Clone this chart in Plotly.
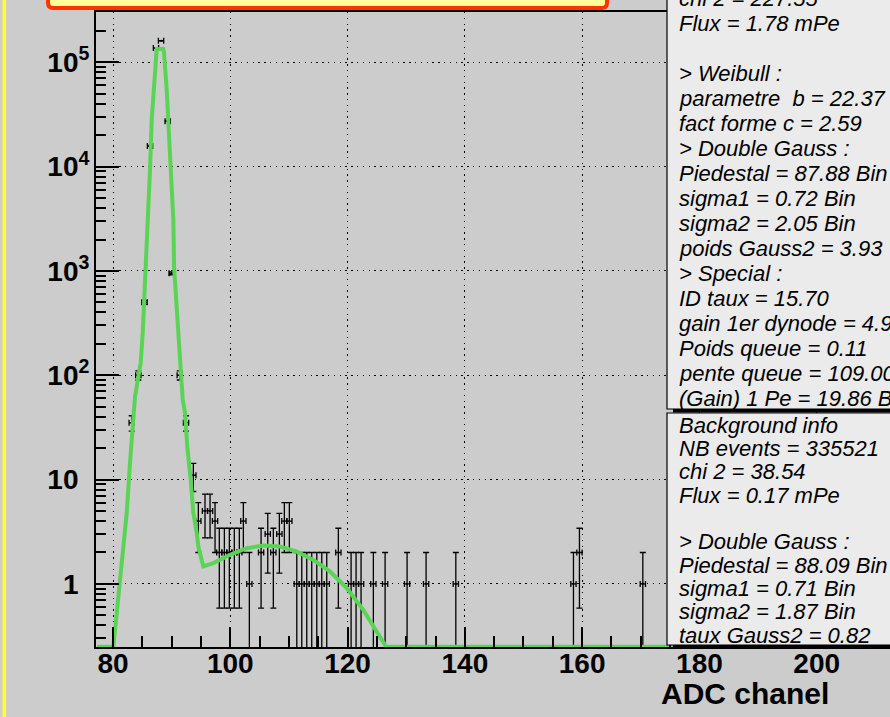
import numpy as np
import plotly.graph_objects as go

# ADC spectrum (bin centre, entries)
adc = [83.19, 84.32, 85.37, 86.31, 87.33, 88.19, 89.33, 90.01, 91.38, 92.45,
       93.70, 94.55, 95.69, 96.55, 97.40, 98.13, 98.99, 99.84, 100.69, 101.54,
       102.23, 103.25, 105.25, 106.39, 107.34, 108.37, 109.22, 110.07,
       111.34, 112.19, 113.04, 113.89, 114.75, 115.60, 116.45, 118.43,
       120.60, 121.45, 122.30, 124.40, 126.40, 130.15, 133.39, 138.46,
       158.52, 159.54, 170.35]
counts = [35, 100, 500, 15800, 137000, 161000, 27200, 950, 100, 35,
          11, 4, 5, 5, 4, 2, 2, 2, 2, 2,
          4, 1, 2, 3, 2, 3, 4, 4,
          1, 1, 1, 1, 1, 1, 1, 2,
          1, 1, 1, 1, 1, 1, 1, 1,
          1, 2, 1]

# fitted function (green)
fit_x = [77.27, 80.05, 80.63, 81.19, 81.76, 82.34, 82.90, 83.46, 83.75, 84.04,
         84.72, 85.07, 85.34, 85.51, 85.75, 86.14, 86.31, 86.60, 86.87, 87.16,
         87.45, 88.58, 88.70, 89.16, 89.43, 89.72, 90.01, 90.29, 90.41, 90.75,
         91.04, 91.43, 91.89, 92.28, 92.67, 93.25, 93.70, 94.28, 94.55, 95.40,
         97.11, 99.96, 102.81, 105.64, 108.49, 111.34, 114.17, 117.02, 119.86,
         122.70, 124.98, 126.11, 126.57, 180.1]
fit_y = [0.25, 0.25, 0.52, 1.02, 1.98, 4.8, 14.5, 43.6, 62.5, 78,
         131, 256, 528, 1026, 2318, 4800, 9350, 28000, 51000, 98900,
         134000, 134000, 124000, 54500, 28000, 13400, 6400, 3090, 1090, 528,
         256, 120, 58, 43.6, 20.6, 9.9, 4.8, 3.08, 2.28, 1.47,
         1.58, 1.9, 2.2, 2.33, 2.28, 2.04, 1.7, 1.31, 0.91,
         0.56, 0.34, 0.27, 0.25, 0.25]

x_ticks = [80, 100, 120, 140, 160, 180, 200]
y_ticks = [1, 10, 100, 1000, 10000, 100000]
y_ticktext = ["1<sup>&nbsp;&nbsp;</sup>", "10<sup>&nbsp;&nbsp;</sup>",
              "10<sup>2</sup>", "10<sup>3</sup>", "10<sup>4</sup>", "10<sup>5</sup>"]
y_minor = [m * 10.0 ** e for e in range(-1, 6) for m in range(2, 10)]

stats_signal = ["chi 2 = 227.55", "Flux = 1.78 mPe", "",
                "&gt; Weibull :", "parametre&nbsp; b = 22.37", "fact forme c = 2.59",
                "&gt; Double Gauss :", "Piedestal = 87.88 Bin", "sigma1 = 0.72 Bin",
                "sigma2 = 2.05 Bin", "poids Gauss2 = 3.93", "&gt; Special :",
                "ID taux = 15.70", "gain 1er dynode = 4.95", "Poids queue = 0.11",
                "pente queue = 109.00", "(Gain) 1 Pe = 19.86 Bin"]
stats_bkg = ["Background info", "NB events = 335521", "chi 2 = 38.54",
             "Flux = 0.17 mPe", "", "&gt; Double Gauss :", "Piedestal = 88.09 Bin",
             "sigma1 = 0.71 Bin", "sigma2 = 1.87 Bin", "taux Gauss2 = 0.82"]

W, H = 890, 717
ML, MT, MB = 96, 12, 70
PW, PH = W - ML, H - MT - MB


def px(x):
    return (x - ML) / PW


def py(y):
    return (H - MB - y) / PH


err = np.sqrt(counts)

fig = go.Figure()
fig.add_trace(go.Scatter(
    x=adc, y=counts, mode="markers",
    marker=dict(size=2, color="black"),
    error_y=dict(type="data", array=err, arrayminus=err, color="black",
                 thickness=1.3, width=3),
    error_x=dict(type="constant", value=0.45, color="black",
                 thickness=1.3, width=3),
    showlegend=False,
))
fig.add_trace(go.Scatter(
    x=fit_x, y=fit_y, mode="lines",
    line=dict(color="#59d454", width=4),
    showlegend=False,
))

shapes = []
# yellow strip at the far left
shapes.append(dict(type="rect", xref="paper", yref="paper",
                   x0=px(2.5), x1=px(6), y0=py(-5), y1=py(H + 5),
                   fillcolor="#ffff33", line=dict(width=0), layer="above"))
# title pave (mostly off the top)
r = 5
x0, x1, yb = 48, 607, 8
path = (f"M {px(x0)},{py(-20)} L {px(x0)},{py(yb - r)} "
        f"Q {px(x0)},{py(yb)} {px(x0 + r)},{py(yb)} "
        f"L {px(x1 - r)},{py(yb)} Q {px(x1)},{py(yb)} {px(x1)},{py(yb - r)} "
        f"L {px(x1)},{py(-20)} Z")
shapes.append(dict(type="path", xref="paper", yref="paper", path=path,
                   fillcolor="#ffff99", line=dict(color="#ff3300", width=4),
                   layer="above"))
# stats boxes
for (top, bot) in [(-10, 409), (413, 645)]:
    shapes.append(dict(type="rect", xref="paper", yref="paper",
                       x0=px(667), x1=px(W + 10), y0=py(top), y1=py(bot),
                       fillcolor="#ebebeb", line=dict(color="black", width=1.2),
                       layer="above"))
    shapes.append(dict(type="rect", xref="paper", yref="paper",
                       x0=px(673), x1=px(W + 10), y0=py(bot), y1=py(bot + 3.5),
                       fillcolor="black", line=dict(width=0), layer="above"))

annotations = []
for i, t in enumerate(stats_signal):
    if t:
        annotations.append(dict(x=px(677), y=py(-1.7 + 25.0 * i), text=t))
for i, t in enumerate(stats_bkg):
    if t:
        annotations.append(dict(x=px(677), y=py(425 + 23.35 * i), text=t))
for a in annotations:
    a.update(xref="paper", yref="paper", xanchor="left", yanchor="middle",
             showarrow=False,
             font=dict(family="Liberation Sans", size=22, color="black",
                       style="italic"))
annotations.append(dict(x=px(831), y=py(693), xref="paper", yref="paper",
                        xanchor="right", yanchor="middle", showarrow=False,
                        text="ADC chanel",
                        font=dict(family="Liberation Sans", size=30,
                                  color="black", weight="bold")))

tickfont = dict(family="Liberation Sans", size=28, color="black", weight="bold")

fig.update_layout(
    width=W, height=H,
    margin=dict(l=ML, r=0, t=MT, b=MB, pad=0),
    paper_bgcolor="#cccccc", plot_bgcolor="#cccccc",
    shapes=shapes, annotations=annotations,
    xaxis=dict(
        range=[77.1, 212.5], tickmode="array", tickvals=x_ticks,
        ticks="inside", ticklen=20, tickwidth=2, tickcolor="black",
        showline=True, linecolor="black", linewidth=2, mirror=True,
        showgrid=True, gridcolor="black", gridwidth=1.3, griddash="1.3px,4.5px",
        zeroline=False, tickfont=tickfont, ticklabelstandoff=-10,
        automargin=False,
        minor=dict(dtick=5, ticks="inside", ticklen=11, tickwidth=1.5,
                   tickcolor="black", showgrid=False),
    ),
    yaxis=dict(
        type="log", range=[-0.605, 5.482], tickmode="array",
        tickvals=y_ticks, ticktext=y_ticktext,
        ticks="inside", ticklen=23, tickwidth=2, tickcolor="black",
        showline=True, linecolor="black", linewidth=2, mirror=True,
        showgrid=True, gridcolor="black", gridwidth=1.3, griddash="1.3px,4.5px",
        zeroline=False, tickfont=tickfont, ticklabelstandoff=-1,
        automargin=False,
        minor=dict(tickvals=y_minor, ticks="inside", ticklen=10, tickwidth=1.5,
                   tickcolor="black", showgrid=False),
    ),
)

fig.write_html("out.html", config={"displayModeBar": False},
               post_script="document.body.style.margin = '0';")
